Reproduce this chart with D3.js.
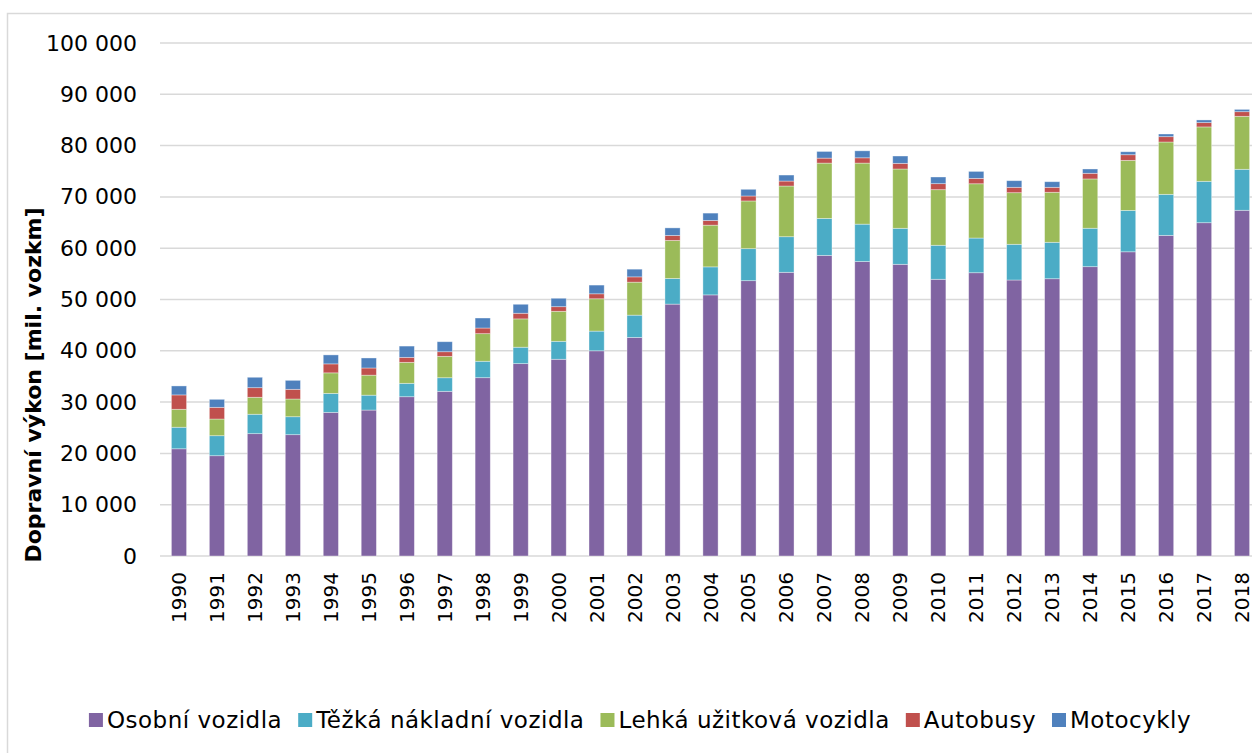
<!DOCTYPE html>
<html>
<head>
<meta charset="utf-8">
<script src="https://cdn.jsdelivr.net/npm/d3@7"></script>
<style>
  html, body { margin: 0; padding: 0; background: #fff; }
  svg { display: block; font-family: "DejaVu Sans", sans-serif; }
</style>
</head>
<body>
<figure id="bar" style="margin:0"></figure>
<script>
// roky
const years = ["1990","1991","1992","1993","1994","1995","1996","1997","1998","1999",
  "2000","2001","2002","2003","2004","2005","2006","2007","2008","2009",
  "2010","2011","2012","2013","2014","2015","2016","2017","2018"];

// dopravni vykon [mil. vozkm]
const osobni = [20900, 19550, 23850, 23650, 28000, 28450, 31050, 32100, 34760, 37500,
  38350, 40000, 42600, 49100, 50900, 53670, 55300, 58600, 57400, 56860,
  53940, 55220, 53800, 54050, 56400, 59300, 62500, 64970, 67390];
const tezka = [4200, 3900, 3780, 3500, 3700, 2900, 2610, 2650, 3200, 3200,
  3500, 3840, 4350, 5000, 5460, 6240, 6940, 7210, 7290, 7020,
  6630, 6760, 6960, 7100, 7490, 8070, 8000, 8070, 7990];
const lehka = [3500, 3250, 3310, 3450, 4000, 3900, 4090, 4170, 5380, 5520,
  5850, 6300, 6430, 7410, 8130, 9300, 9880, 10780, 11900, 11560,
  10840, 10580, 10060, 9750, 9610, 9750, 10200, 10600, 10330];
const autobusy = [2800, 2280, 1870, 1890, 1750, 1400, 970, 900, 1100, 1100,
  900, 970, 1030, 970, 920, 970, 970, 970, 1030, 1100,
  1170, 1050, 1050, 970, 1100, 1100, 1040, 840, 900];
const motocykly = [1750, 1560, 2030, 1750, 1750, 1950, 2200, 1950, 1950, 1750,
  1640, 1700, 1500, 1480, 1430, 1300, 1170, 1300, 1360, 1430,
  1300, 1360, 1290, 1090, 840, 580, 520, 520, 450];

const seriesNames = ["Osobní vozidla", "Těžká nákladní vozidla", "Lehká užitková vozidla", "Autobusy", "Motocykly"];
const colors = ["#8064A2", "#4BACC6", "#9BBB59", "#C0504D", "#4F81BD"];
const yTicks = [0, 10000, 20000, 30000, 40000, 50000, 60000, 70000, 80000, 90000, 100000];

const width = 1252, height = 753;
const plot = { left: 160, right: 1261, top: 43, bottom: 556 };

const svg = d3.select("figure#bar")
  .append("svg")
  .attr("width", width)
  .attr("height", height);

// ramecek grafu
svg.append("rect")
  .attr("x", 7.5).attr("y", 13.5)
  .attr("width", 1300).attr("height", 800)
  .attr("fill", "none")
  .attr("stroke", "#d9d9d9")
  .attr("stroke-width", 1.5);

const x = d3.scaleBand()
  .domain(years)
  .range([plot.left, plot.right])
  .paddingInner(0.6)
  .paddingOuter(0.3);

const y = d3.scaleLinear()
  .domain([0, 100000])
  .range([plot.bottom, plot.top]);

// mrizka
svg.append("g")
  .selectAll("line")
  .data(yTicks)
  .enter()
  .append("line")
  .attr("x1", plot.left)
  .attr("x2", width)
  .attr("y1", d => y(d))
  .attr("y2", d => y(d))
  .attr("stroke", "#d9d9d9")
  .attr("stroke-width", 1.5);

// osa Y
const fmt = d => d3.format(",")(d).replace(/,/g, " ");
svg.append("g")
  .attr("transform", "translate(137,0)")
  .call(d3.axisLeft(y).tickValues(yTicks).tickFormat(fmt).tickSize(0).tickPadding(0))
  .call(g => g.select(".domain").remove())
  .selectAll("text")
  .style("font-size", "22px")
  .style("font-family", "DejaVu Sans")
  .attr("fill", "#000");

// osa X
svg.append("g")
  .attr("transform", "translate(0," + plot.bottom + ")")
  .call(d3.axisBottom(x).tickSize(0).tickPadding(0))
  .call(g => g.select(".domain").remove())
  .selectAll("text")
  .attr("transform", "translate(0,16)rotate(-90)")
  .attr("x", 0)
  .attr("y", 0)
  .attr("dy", "0.35em")
  .style("text-anchor", "end")
  .style("font-size", "20px")
  .style("font-family", "DejaVu Sans")
  .attr("fill", "#000");

// popisek osy Y
svg.append("text")
  .attr("transform", "translate(41,385)rotate(-90)")
  .attr("text-anchor", "middle")
  .style("font-size", "22px")
  .style("font-weight", "bold")
  .text("Dopravní výkon [mil. vozkm]");

// sloupce
const table = years.map((yr, i) => ({
  year: yr,
  s0: osobni[i], s1: tezka[i], s2: lehka[i], s3: autobusy[i], s4: motocykly[i]
}));
const stack = d3.stack().keys(["s0", "s1", "s2", "s3", "s4"])(table);

svg.append("g")
  .selectAll("g")
  .data(stack)
  .enter()
  .append("g")
  .attr("fill", (d, i) => colors[i])
  .selectAll("rect")
  .data(d => d)
  .enter()
  .append("rect")
  .attr("x", d => x(d.data.year))
  .attr("y", d => y(d[1]))
  .attr("width", x.bandwidth())
  .attr("height", d => y(d[0]) - y(d[1]))
  .attr("stroke", "#fff")
  .attr("stroke-opacity", 0.45)
  .attr("stroke-width", 0.8);

// legenda
const legend = svg.append("g").attr("transform", "translate(0,720)");
const items = legend.selectAll("g")
  .data(seriesNames)
  .enter()
  .append("g");
items.append("rect")
  .attr("x", 0).attr("y", -7)
  .attr("width", 14).attr("height", 14)
  .attr("fill", (d, i) => colors[i]);
items.append("text")
  .attr("x", 18)
  .attr("dy", "0.35em")
  .style("font-size", "23px")
  .style("letter-spacing", "0.5px")
  .text(d => d);

let widths = [];
items.each(function () {
  widths.push(18 + this.querySelector("text").getComputedTextLength());
});
const gap = 16;
const total = d3.sum(widths) + gap * (widths.length - 1);
let pos = 640 - total / 2;
items.attr("transform", (d, i) => {
  const t = "translate(" + pos + ",0)";
  pos += widths[i] + gap;
  return t;
});
</script>
</body>
</html>
